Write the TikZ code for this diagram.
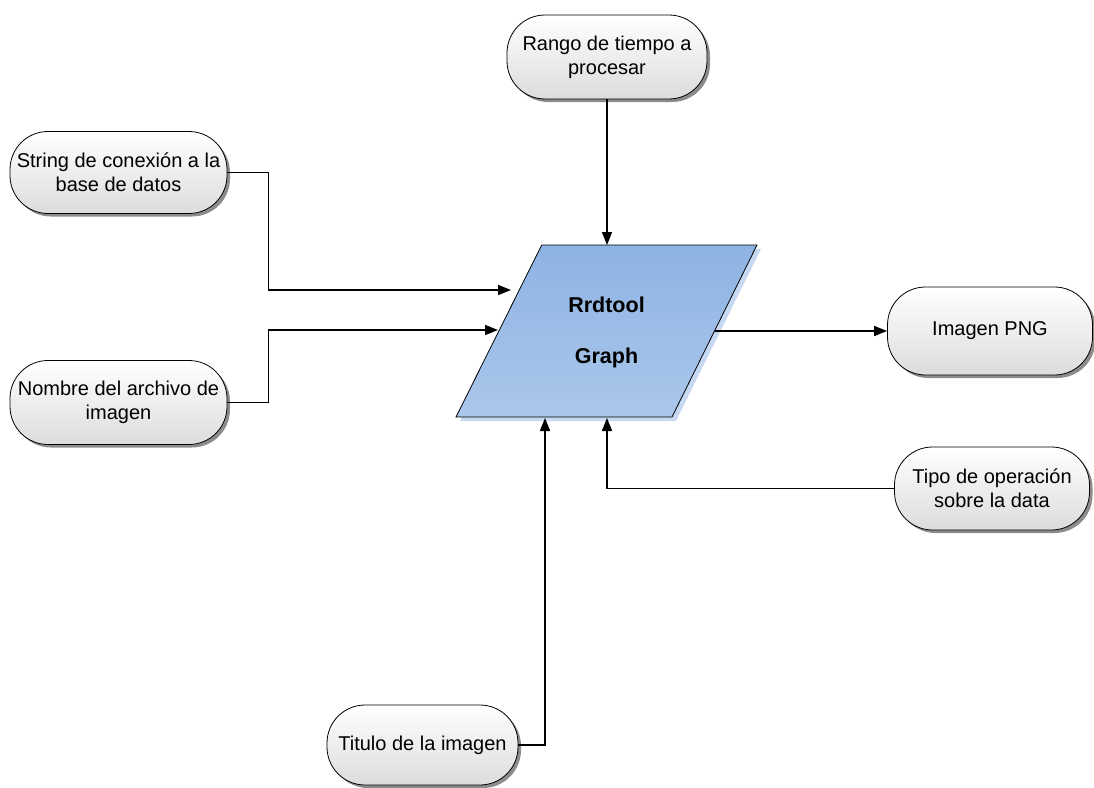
\documentclass[tikz,border=0pt]{standalone}
\usepackage{fontspec}
\setmainfont{Liberation Sans}
\usetikzlibrary{shadows,arrows.meta}
\definecolor{termbot}{HTML}{DCDCDC}
\definecolor{shadowgray}{HTML}{8C8C8C}
\definecolor{ptop}{HTML}{8DB3E2}
\definecolor{pbot}{HTML}{ABC7EB}
\definecolor{pshadow}{HTML}{C6D9F1}
\begin{document}
\begin{tikzpicture}[x=1pt,y=-1pt,
  term/.style={draw=black, line width=0.8pt, rounded corners=38pt,
    top color=white, bottom color=termbot, align=center, inner sep=0pt,
    font=\fontsize{20}{24}\selectfont,
    drop shadow={shadow xshift=3pt, shadow yshift=-3pt, fill=shadowgray, opacity=1}},
  conn/.style={line width=1.6pt, -{Triangle[length=13pt,width=10pt]}}
]
\useasboundingbox (0,0) rectangle (1094,787);

% central parallelogram
\fill[pshadow] (545.7,249) -- (761,249) -- (676,421) -- (460,421) -- cycle;
\shade[top color=ptop, bottom color=pbot, draw=black, line width=0.8pt]
  (541.7,245) -- (757,245) -- (672,417) -- (456,417) -- cycle;
\node[align=center, inner sep=0pt, font=\bfseries\fontsize{21.5}{51}\selectfont] (g) at (606.5,332) {Rrdtool\\Graph};

\coordinate (pin1) at (511,290);
\coordinate (pin2) at (498,330);
\coordinate (ptopc) at (607,245);
\coordinate (pout) at (715,331);
\coordinate (pb1) at (545,418);
\coordinate (pb2) at (607,418);

% terminators
\node[term, minimum width=200pt, minimum height=84pt] (rango) at (607,57) {Rango de tiempo a\\procesar};
\node[term, minimum width=217pt, minimum height=82pt] (string) at (118.5,172.5) {String de conexión a la\\base de datos};
\node[term, minimum width=217pt, minimum height=84pt] (nombre) at (118.5,402.5) {Nombre del archivo de\\imagen};
\node[term, minimum width=205pt, minimum height=88pt] (png) at (990,331) {Imagen PNG};
\node[term, minimum width=195pt, minimum height=83pt] (tipo) at (992,488.5) {Tipo de operación\\sobre la data};
\node[term, minimum width=191pt, minimum height=80pt] (titulo) at (422.5,745) {Titulo de la imagen};

% connectors
\draw[conn] (rango.south) -- (ptopc);
\draw[conn] (string.east) -- ++(41,0) |- (pin1);
\draw[conn] (nombre.east) -- ++(41,0) |- (pin2);
\draw[conn] (pout) -- (pout -| png.west);
\draw[conn] (tipo.west) -| (pb2);
\draw[conn] (titulo.east) -| (pb1);
\end{tikzpicture}
\end{document}
